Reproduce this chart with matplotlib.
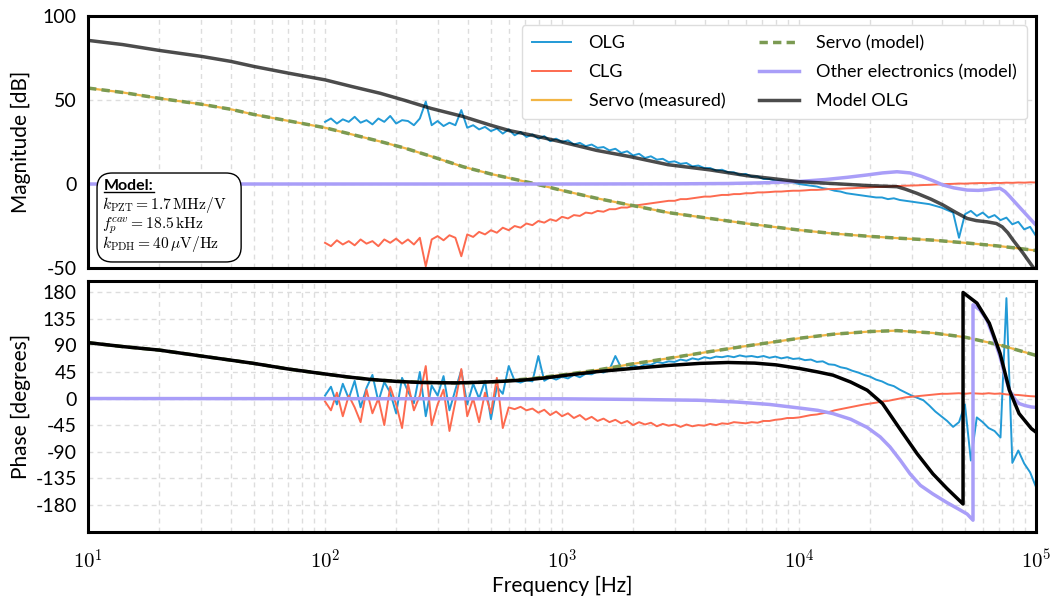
import numpy as np
import matplotlib
matplotlib.use('Agg')
import matplotlib.pyplot as plt
from matplotlib.patches import FancyBboxPatch
from matplotlib.ticker import LogLocator, FuncFormatter, NullFormatter

plt.rcParams['font.family'] = ['Lato', 'DejaVu Sans']
plt.rcParams['mathtext.fontset'] = 'cm'
plt.rcParams['axes.unicode_minus'] = False

# measured sweep: 40 points per decade, 100 Hz .. 100 kHz
f_meas = np.logspace(2, 5, 121)

olg_mag = [37, 39, 36, 38.5, 37, 40, 36.5, 38, 35.5, 39, 37, 40.5, 36, 38, 37.5, 35, 39,
           49, 35, 37.5, 34.5, 36.5, 35, 44, 33.5, 35, 32.5, 34, 31.5, 33, 30, 32.5, 29,
           31, 28, 29.5, 27, 28.5, 25.5, 27, 25, 26, 23.5, 24.5, 22.5, 23.5, 21.5, 22, 20,
           21, 18.5, 19.5, 17, 18, 15.5, 16.5, 14.5, 15, 13, 13.5, 12, 12.5, 10.5, 11, 9.5,
           9.5, 8, 8.5, 7, 7, 5.5, 6, 4.5, 4.5, 3, 3, 2, 2, 1, 1, 0, -0.5, -1, -1.5, -2.5,
           -3, -4, -4.5, -5.5, -6, -6.5, -7, -7.5, -8, -8, -9, -8.5, -9.5, -10, -10.5, -11,
           -11.5, -12, -13, -14, -15.5, -17, -32, -18, -16, -19, -17, -20, -18.5, -21.5,
           -20, -24, -22.5, -27, -25.5, -31]
clg_mag = [-35, -37, -33.5, -36, -34, -36.5, -33, -35.5, -34, -37, -33, -35, -32.5, -35.5,
           -33, -36, -32, -49, -33, -31, -33.5, -30.5, -32, -43, -30, -31.5, -28.5, -30,
           -27.5, -29, -26, -27.5, -25, -26, -23.5, -24.5, -22, -23, -21, -22, -19.5, -20.5,
           -18.5, -19, -17, -17.5, -16, -16.5, -15, -15, -14, -14, -13, -12.5, -12, -11.5,
           -11, -10.5, -10, -10, -9, -9, -8.5, -8, -7.5, -7.5, -7, -6.5, -6.5, -6, -6, -5.5,
           -5.5, -5, -5, -4.8, -4.5, -4.5, -4.2, -4, -4, -3.8, -3.5, -3.5, -3.3, -3, -3,
           -2.8, -2.6, -2.5, -2.3, -2.2, -2, -1.8, -1.7, -1.5, -1.3, -1.2, -1, -0.9, -0.8,
           -0.6, -0.5, -0.3, -0.2, 0, 0.1, 0.3, 0.2, 0.4, 0.5, 0.6, 0.5, 0.7, 0.6, 0.8, 0.7,
           0.9, 0.8, 1, 0.9]
olg_phase = [5, 20, -10, 25, 0, 30, -15, 18, 40, -5, 28, 10, -25, 35, 12, -8, 45, -30, 22,
             5, 38, -20, 15, 48, -10, 25, 0, 30, -35, 20, 8,
             55, 30, 27, 31, 29, 72, 30, 36, 32, 37, 34, 40, 36, 42, 41, 46, 44, 49, 72, 52,
             50, 56, 53, 58, 57, 62, 60, 63, 62, 66, 64, 68, 66, 70, 68, 71, 70, 72, 70, 73,
             71, 72, 70, 72, 69, 71, 68, 70, 67, 68,
             65, 66, 62, 63, 58, 57, 53, 51, 47, 44, 40, 37, 32, 29, 24, 21, 15, 10, 5, 1,
             -3, -12, -22, -30, -38, -48, -40, -10, -105, -32, -40, -50, -55, -66, 170,
             -109, -88, -110, -125, -150]
clg_phase = [-5, -20, 10, -30, 5, -15, -40, 15, -25, 0, -45, 20, -10, -50, 25, -20, 5, 55,
             -45, -10, 15, -55, -5, 50, -30, 0, -40, 10, -25, 35, -50,
             -15, -18, -14, -20, -17, -24, -19, -28, -22, -30, -25, -33, -28, -36, -31, -38,
             -34, -40, -36, -42, -38, -45, -40, -44, -41, -47, -43, -46, -44, -48, -44, -47,
             -45, -46, -43, -45, -42, -43, -40, -41, -42, -40, -41, -38, -38, -36, -35, -33,
             -33, -32,
             -30, -28, -27, -25, -23, -20, -18, -16, -14, -12, -10, -8.5, -7, -5, -4, -2, 0,
             2, 3, 4, 5, 6, 7, 8, 8, 8.5, 9, 8, 9, 8.5, 8, 9, 8, 8.5, 7, 6.5, 6, 5, 4, 3.5]

# servo transfer function
f_servo = [10, 14, 20, 30, 40, 50, 70, 100, 130, 171, 218, 280, 382, 500, 600, 755, 1000,
           1400, 1936, 2800, 4207, 6000, 10000, 14000, 20000, 25900, 36700, 50000, 70500,
           100000]
servo_mag = [57.1, 54.5, 51, 47.5, 44.5, 41.4, 37.6, 33.5, 29.5, 25.3, 21.3, 16.5, 10.3, 6,
             3.5, 0.4, -3.8, -8.5, -12.5, -17, -20.5, -23.5, -27.4, -29.5, -31.2, -32.2,
             -33.4, -35, -37, -39.6]
servo_phase = [94.6, 88, 82, 72, 65, 59.5, 50, 41.5, 35.5, 31, 28.5, 27, 26.5, 28, 30.5, 34,
               40, 48, 58, 68, 79.5, 89, 102, 109, 113.5, 115, 111, 104, 90.6, 73]

# other electronics (model)
f_other_mag = [10, 1000, 3000, 5000, 7000, 10000, 13000, 16000, 19400, 22500, 25900, 29400,
               33000, 36700, 40500, 45000, 51200, 57000, 62000, 66000, 70500, 74000, 77000,
               80000, 88000, 97000, 100000]
other_mag = [0, 0, 0.1, 0.3, 0.7, 1.5, 2.7, 4, 5.4, 6.6, 7.3, 6.6, 4.5, 2, -0.6, -2.3, -3.6,
             -3.8, -3.4, -2.9, -2.6, -4.5, -7, -9.6, -16, -22.5, -24.5]
f_other_phase = [10, 1000, 2000, 3820, 5500, 7500, 10000, 12000, 13900, 16500, 19400, 22000,
                 24200, 26800, 29400, 32500, 36700, 42000, 47000, 51200, 54200, 54200, 58000,
                 62000, 66000, 70500, 74000, 77200, 81000, 84800, 90000, 95600, 100000]
other_phase = [0, -0.5, -1.5, -3, -6, -10, -16, -20, -25.5, -35, -49, -65, -82, -105,
               -127.5, -147, -161.6, -176, -187, -195.6, -206, 158.7, 150, 133, 105, 70.8,
               38, 14, 0, -8.5, -12, -14.3, -15]

# full open loop model
f_model_mag = [10, 14, 20, 30, 40, 50, 70, 100, 130, 171, 218, 280, 382, 500, 600, 755,
               1000, 1400, 1936, 2800, 4207, 6000, 10000, 15000, 20000, 25900, 28000, 31500,
               36000, 40500, 46000, 51200, 56000, 62000, 68000, 72000, 76000, 80000, 88000,
               97000, 100000]
model_mag = [85.5, 83, 79.5, 76, 73, 70, 66, 62, 58, 54, 49.7, 45, 40.2, 35, 31.8, 28.9, 25,
             20, 16.3, 11.5, 8.4, 5, 1.4, 0, -1, -1.6, -3, -5.6, -9, -12.5, -17, -20.5,
             -21.8, -22.5, -23.5, -25.5, -29, -33.4, -41, -49.4, -52]
f_model_phase = [10, 14, 20, 30, 40, 50, 70, 96, 125, 156, 200, 254, 354, 450, 575, 700,
                 850, 1050, 1400, 1995, 2800, 3820, 5000, 6500, 8000, 10000, 12000, 13900,
                 16500, 19400, 22500, 26900, 31500, 36700, 42000, 49200, 49200, 56300,
                 63500, 70500, 77200, 84800, 95600, 100000]
model_phase = [94.6, 88, 82, 72, 65, 59.5, 50, 42.5, 36.5, 32.3, 29, 27.2, 26.5, 27.5, 29.4,
               31.5, 35, 39.6, 45.5, 51, 56, 59.5, 61, 60, 57, 51, 45, 39.6, 28, 14, -8.5,
               -54, -93.5, -127.5, -152, -178.6, 179.6, 161.6, 127.5, 76.5, 14, -25.5, -51,
               -57]

c_olg = '#229ad6'
c_clg = '#fd6a4f'
c_servo_meas = '#f2b544'
c_servo_model = '#7b9a52'
c_other = '#a99ef8'

fig = plt.figure(figsize=(10.53, 6.02), dpi=100)
ax1 = fig.add_axes([0.0836, 0.5548, 0.9003, 0.4186])
ax2 = fig.add_axes([0.0836, 0.1163, 0.9003, 0.4169], sharex=ax1)

dash = (0, (2.4, 1.5))

ax1.semilogx(f_meas, olg_mag, color=c_olg, lw=1.4, label='OLG')
ax1.semilogx(f_meas, clg_mag, color=c_clg, lw=1.4, label='CLG')
ax1.semilogx(f_servo, servo_mag, color=c_servo_meas, lw=1.6, label='Servo (measured)')
ax1.semilogx(f_servo, servo_mag, color=c_servo_model, lw=2.5, ls=dash, label='Servo (model)')
ax1.semilogx(f_other_mag, other_mag, color=c_other, lw=2.5, label='Other electronics (model)')
ax1.semilogx(f_model_mag, model_mag, color='k', alpha=0.7, lw=2.5, label='Model OLG')

ax2.semilogx(f_meas, olg_phase, color=c_olg, lw=1.4)
ax2.semilogx(f_meas, clg_phase, color=c_clg, lw=1.4)
ax2.semilogx(f_servo, servo_phase, color=c_servo_meas, lw=1.6)
ax2.semilogx(f_servo, servo_phase, color=c_servo_model, lw=2.5, ls=dash)
ax2.semilogx(f_other_phase, other_phase, color=c_other, lw=2.5)
ax2.semilogx(f_model_phase, model_phase, color='k', lw=2.5)

ax1.set_xlim(10, 1e5)
ax1.set_ylim(-50, 100)
ax1.set_yticks([-50, 0, 50, 100])
ax2.set_ylim(-226, 199)
ax2.set_yticks(np.arange(-180, 181, 45))

for ax in (ax1, ax2):
    ax.set_facecolor('white')
    ax.xaxis.set_major_locator(LogLocator(base=10, numticks=10))
    ax.xaxis.set_minor_locator(LogLocator(base=10, subs=np.arange(2, 10), numticks=20))
    ax.xaxis.set_minor_formatter(NullFormatter())
    ax.grid(True, which='both', axis='x', color='#dddddd', ls=(0, (3.5, 3)), lw=1.0)
    ax.grid(True, which='major', axis='y', color='#dddddd', ls=(0, (3.5, 3)), lw=1.0)
    ax.set_axisbelow(True)
    ax.tick_params(which='both', length=0, labelsize=14, pad=8)
    for sp in ax.spines.values():
        sp.set_color('black')
        sp.set_linewidth(2.2)

ax1.tick_params(axis='x', labelbottom=False)
ax2.xaxis.set_major_formatter(FuncFormatter(lambda v, p: r'$10^{%d}$' % round(np.log10(v))))
ax2.tick_params(axis='x', labelsize=15, pad=12)

ax1.set_ylabel('Magnitude [dB]', fontsize=15)
ax2.set_ylabel('Phase [degrees]', fontsize=15)
ax1.yaxis.set_label_coords(-0.06, 0.5)
ax2.yaxis.set_label_coords(-0.06, 0.5)
ax2.set_xlabel('Frequency [Hz]', fontsize=15, labelpad=2)

leg = ax1.legend(ncol=2, loc='upper right', fontsize=13, handlelength=2.2,
                 columnspacing=1.9, labelspacing=0.72, borderpad=0.55,
                 handletextpad=0.95, frameon=True, fancybox=True, framealpha=1)
leg.get_frame().set_edgecolor('#dddddd')
leg.get_frame().set_linewidth(1.0)

# parameter box in the lower left corner of the magnitude panel
box = FancyBboxPatch((0.0095, 0.024), 0.152, 0.353, transform=ax1.transAxes,
                     boxstyle='round,pad=0,rounding_size=0.016',
                     mutation_aspect=948 / 252, fc='white', ec='black', lw=1.0,
                     zorder=5)
ax1.add_patch(box)
title = ax1.text(0.017, 0.308, 'Model:', transform=ax1.transAxes, fontsize=11.5,
                 fontweight='bold', va='baseline', zorder=6)
lines = [r'$k_{\mathrm{PZT}} = 1.7\,\mathrm{MHz/V}$',
         r'$f_p^{cav} = 18.5\,\mathrm{kHz}$',
         r'$k_{\mathrm{PDH}} = 40\,\mu\mathrm{V/Hz}$']
for txt, yb in zip(lines, [0.236, 0.160, 0.080]):
    ax1.text(0.015, yb, txt, transform=ax1.transAxes, fontsize=11.2, va='baseline',
             zorder=6)

fig.canvas.draw()
bb = title.get_window_extent(renderer=fig.canvas.get_renderer())
(ux0, uy), (ux1, _) = ax1.transAxes.inverted().transform([(bb.x0, bb.y0 + 1), (bb.x1, bb.y0 + 1)])
ax1.plot([ux0, ux1], [uy, uy], transform=ax1.transAxes, color='black', lw=1.0, zorder=6)

fig.savefig('out.png', dpi=100)
